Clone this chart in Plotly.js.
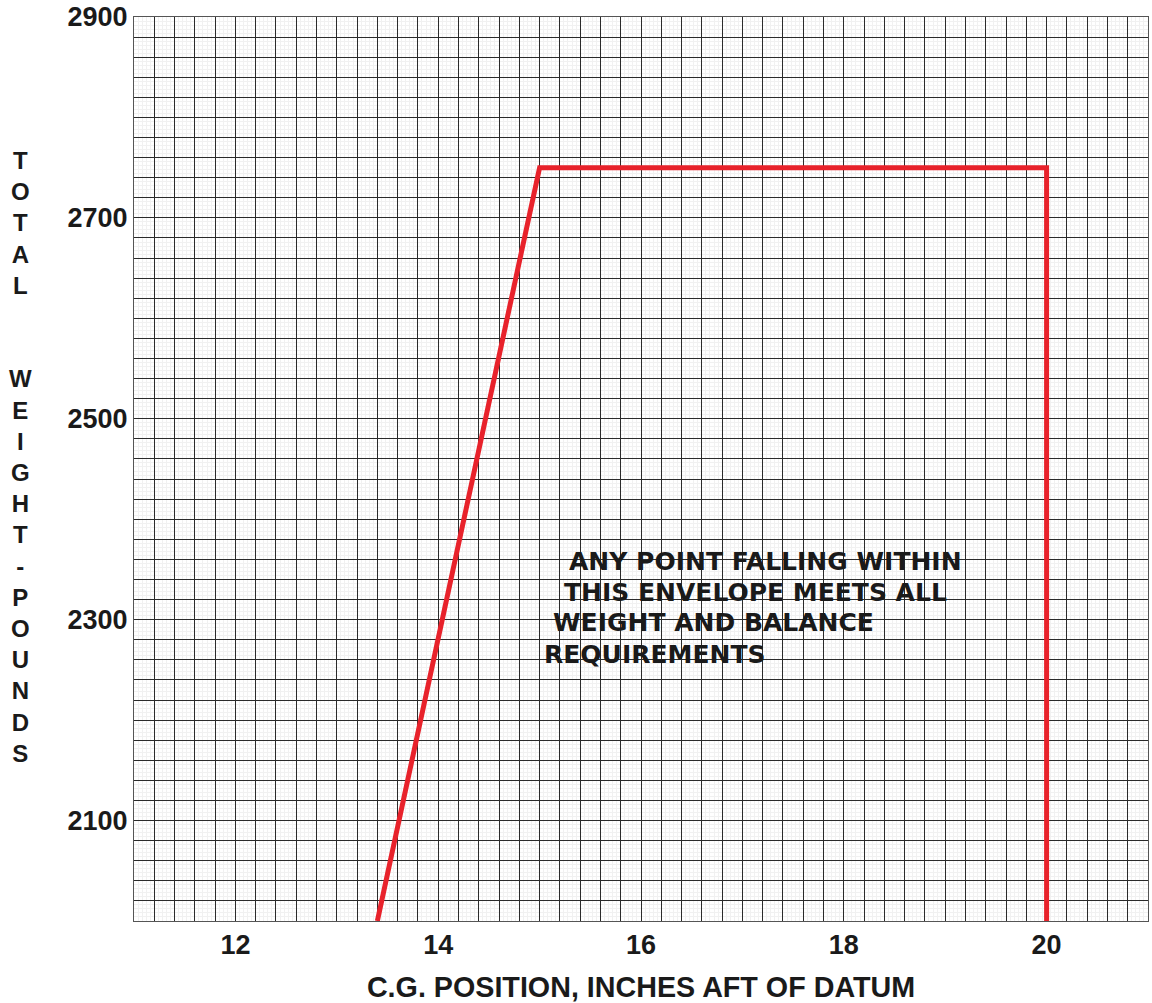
<!DOCTYPE html>
<html>
<head>
<meta charset="utf-8">
<script src="https://cdn.plot.ly/plotly-3.0.1.min.js"></script>
<style>html,body{margin:0;padding:0;background:#fff;}#chart{width:1152px;height:1003px;}</style>
</head>
<body>
<div id="chart"></div>
<script>
// Envelope (C.G. position in inches aft of datum, total weight in pounds)
var envelopeCG = [13.4, 15.0, 20.0, 20.0];
var envelopeWeight = [2000, 2750, 2750, 2000];

// Axis tick labels
var xTickValues = [12, 14, 16, 18, 20];
var xTickLabels = ['12', '14', '16', '18', '20'];
var yTickValues = [2100, 2300, 2500, 2700, 2900];
var yTickLabels = ['2100', '2300', '2500', '2700', '2900'];

// Text
var noteLines = [
  'ANY POINT FALLING WITHIN',
  'THIS ENVELOPE MEETS ALL',
  'WEIGHT AND BALANCE',
  'REQUIREMENTS'
];
var xTitle = 'C.G. POSITION, INCHES AFT OF DATUM';
var yTitle = 'TOTAL  WEIGHT-POUNDS';

// Grid (graph paper) tick positions: every 0.2 in and every 20 lb
function gridTicks(start, end, step, vals, labels) {
  var tv = [], tt = [];
  var n = Math.round((end - start) / step);
  for (var i = 0; i <= n; i++) {
    var v = Math.round((start + i * step) * 1000) / 1000;
    tv.push(v);
    var k = vals.indexOf(v);
    tt.push(k >= 0 ? labels[k] : '');
  }
  return {tv: tv, tt: tt};
}
var xg = gridTicks(11, 21, 0.2, xTickValues, xTickLabels);
var yg = gridTicks(2000, 2900, 20, yTickValues, yTickLabels);

var gridDark = '#2b2b2b';
var gridFaint = '#f1f1f1';
var ink = '#1a1a1a';

var traces = [{
  type: 'scatter',
  mode: 'lines',
  x: envelopeCG,
  y: envelopeWeight,
  line: {color: '#e8222b', width: 5},
  cliponaxis: false,
  hoverinfo: 'x+y'
}];

var noteX = [15.267, 15.218, 15.11, 15.02];
var noteY = [2358, 2327, 2297, 2265];
var annotations = noteLines.map(function (t, i) {
  return {
    text: t, x: noteX[i], y: noteY[i], xref: 'x', yref: 'y',
    xanchor: 'left', yanchor: 'middle', showarrow: false,
    font: {family: 'DejaVu Sans', size: 25, weight: 'bold', color: ink}
  };
});
annotations.push({
  text: yTitle.split('').map(function (c) { return c === ' ' ? '' : c; }).join('<br>'),
  xref: 'paper', yref: 'paper', x: -0.1124, y: 0.5138,
  xanchor: 'center', yanchor: 'middle', showarrow: false, align: 'center',
  font: {family: 'Liberation Sans', size: 24, weight: 'bold', color: ink}
});

var layout = {
  width: 1152, height: 1003,
  margin: {l: 134, r: 4, t: 17, b: 82, pad: 0},
  paper_bgcolor: '#ffffff', plot_bgcolor: '#ffffff',
  showlegend: false,
  xaxis: {
    range: [11, 21], autorange: false,
    tickmode: 'array', tickvals: xg.tv, ticktext: xg.tt,
    showgrid: true, gridcolor: gridDark, gridwidth: 1,
    zeroline: false, ticks: '',
    showline: true, mirror: true, linecolor: '#555', linewidth: 1,
    tickfont: {family: 'Liberation Sans', size: 27, weight: 'bold', color: ink},
    minor: {dtick: 0.04, tick0: 11, showgrid: true, gridcolor: gridFaint, gridwidth: 1, ticks: ''},
    title: {text: xTitle, standoff: 20,
      font: {family: 'Liberation Sans', size: 28.7, weight: 'bold', color: ink}},
    automargin: false
  },
  yaxis: {
    range: [2000, 2900], autorange: false,
    tickmode: 'array', tickvals: yg.tv, ticktext: yg.tt,
    showgrid: true, gridcolor: gridDark, gridwidth: 1,
    zeroline: false, ticks: '',
    showline: true, mirror: true, linecolor: '#555', linewidth: 1,
    tickfont: {family: 'Liberation Sans', size: 27, weight: 'bold', color: ink},
    minor: {dtick: 4, tick0: 2000, showgrid: true, gridcolor: gridFaint, gridwidth: 1, ticks: ''},
    automargin: false
  },
  annotations: annotations
};

Plotly.newPlot('chart', traces, layout, {displayModeBar: false, staticPlot: true});
</script>
</body>
</html>
